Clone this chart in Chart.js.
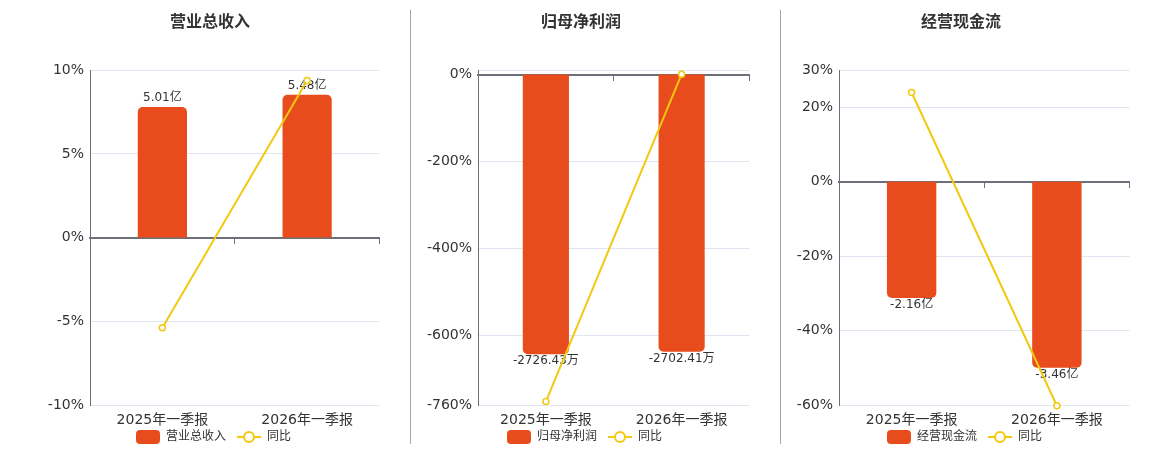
<!DOCTYPE html>
<html>
<head>
<meta charset="utf-8">
<script src="https://cdn.jsdelivr.net/npm/chart.js@4.4.1/dist/chart.umd.min.js"></script>
<style>
  html, body { margin: 0; padding: 0; background: #fff; }
  #wrap { position: relative; width: 1160px; height: 450px; overflow: hidden; }
  canvas { position: absolute; top: 0; }
  .sep { position: absolute; top: 10px; height: 434px; width: 1px; background: #a6a6a6; }
</style>
</head>
<body>
<div id="wrap">
  <canvas id="c1" width="350" height="453" style="left:35px"></canvas>
  <canvas id="c2" width="348" height="453" style="left:407px"></canvas>
  <canvas id="c3" width="348" height="453" style="left:787px"></canvas>
  <div class="sep" style="left:410px"></div>
  <div class="sep" style="left:780px"></div>
</div>
<script>
// ---- data ----
const categories = ['2025年一季报', '2026年一季报'];

const revenueTitle = '营业总收入';
const revenueValues = [5.01, 5.48];
const revenueUnit = '亿';
const revenueYoy = [-5.38, 9.38];
const revenueTicks = [-10, -5, 0, 5, 10];

const profitTitle = '归母净利润';
const profitValues = [-2726.43, -2702.41];
const profitUnit = '万';
const profitYoy = [-752, 0.88];
const profitTicks = [-760, -600, -400, -200, 0, 10];
const profitHiddenTicks = [10];

const cashTitle = '经营现金流';
const cashValues = [-2.16, -3.46];
const cashUnit = '亿';
const cashYoy = [24.0, -60.2];
const cashTicks = [-60, -40, -20, 0, 20, 30];

const yoyLabel = '同比';

// ---- styles ----
const BAR_COLOR = '#e84b1c';
const LINE_COLOR = '#f2c811';
const AXIS_COLOR = '#6e7079';
const GRID_COLOR = '#e0e6f1';
const TEXT_COLOR = '#333333';
Chart.defaults.font.family = "'DejaVu Sans', 'Noto Sans CJK SC', sans-serif";
Chart.defaults.color = TEXT_COLOR;

// legend icons: 31px wide, visible part on the right 24px
function makeBarIcon() {
  const c = document.createElement('canvas');
  c.width = 31; c.height = 14;
  const g = c.getContext('2d');
  g.fillStyle = BAR_COLOR;
  g.beginPath();
  g.roundRect(7, 0, 24, 14, 4);
  g.fill();
  return c;
}
function makeLineIcon() {
  const c = document.createElement('canvas');
  c.width = 31; c.height = 14;
  const g = c.getContext('2d');
  g.strokeStyle = LINE_COLOR;
  g.lineWidth = 2;
  g.beginPath(); g.moveTo(7, 7); g.lineTo(31, 7); g.stroke();
  g.fillStyle = '#fff';
  g.beginPath(); g.arc(19, 7, 5, 0, Math.PI * 2); g.fill(); g.stroke();
  return c;
}
const barIcon = makeBarIcon();
const lineIcon = makeLineIcon();

const barLabelPlugin = {
  id: 'barLabels',
  afterDatasetDraw(chart, args, opts) {
    if (args.index !== 0) return;
    const ctx = chart.ctx;
    const ds = chart.data.datasets[0];
    ctx.save();
    ctx.font = "12px 'DejaVu Sans', 'Noto Sans CJK SC', sans-serif";
    ctx.fillStyle = TEXT_COLOR;
    ctx.textAlign = 'center';
    args.meta.data.forEach((el, i) => {
      const v = ds.data[i];
      const txt = v.toFixed(2) + opts.unit;
      if (v >= 0) {
        ctx.textBaseline = 'bottom';
        ctx.fillText(txt, el.x, el.y - 3);
      } else {
        ctx.textBaseline = 'top';
        ctx.fillText(txt, el.x, el.y + 1);
      }
    });
    ctx.restore();
  }
};

function makeChart(id, p) {
  const tickList = p.ticks;
  const hidden = p.hiddenTicks || [];
  return new Chart(document.getElementById(id), {
    type: 'bar',
    data: {
      labels: categories,
      datasets: [
        {
          type: 'bar',
          label: p.title,
          data: p.values,
          yAxisID: 'yb',
          backgroundColor: BAR_COLOR,
          borderRadius: 5,
          borderSkipped: 'start',
          barPercentage: 0.34,
          categoryPercentage: 1,
          order: 1
        },
        {
          type: 'line',
          label: yoyLabel,
          data: p.yoy,
          yAxisID: 'y',
          borderColor: LINE_COLOR,
          borderWidth: 2,
          pointRadius: 3,
          pointBorderWidth: 1.5,
          pointBackgroundColor: '#fff',
          pointBorderColor: LINE_COLOR,
          tension: 0,
          clip: false,
          order: 0
        }
      ]
    },
    options: {
      responsive: false,
      animation: false,
      layout: { padding: 0 },
      plugins: {
        tooltip: { enabled: false },
        title: {
          display: true,
          text: p.title,
          color: TEXT_COLOR,
          font: { size: 16, weight: 'bold' },
          padding: { top: 13, bottom: 38 }
        },
        legend: {
          position: 'bottom',
          labels: {
            usePointStyle: true,
            pointStyleWidth: 31,
            padding: 4,
            color: TEXT_COLOR,
            font: { size: 12 },
            generateLabels(chart) {
              const items = Chart.defaults.plugins.legend.labels.generateLabels(chart);
              items.sort((a, b) => a.datasetIndex - b.datasetIndex);
              items.forEach(it => { it.pointStyle = it.datasetIndex === 0 ? barIcon : lineIcon; });
              return items;
            }
          }
        },
        barLabels: { unit: p.unit }
      },
      scales: {
        x: {
          type: 'category',
          offset: true,
          grid: { display: false, drawTicks: false },
          border: { display: false },
          ticks: { font: { size: 14, lineHeight: 1 }, color: TEXT_COLOR, padding: 8, maxRotation: 0 },
          afterFit(scale) { scale.height = 22; scale.paddingLeft = 0; scale.paddingRight = 0; }
        },
        x2: {
          type: 'category',
          offset: true,
          position: { y: 0 },
          z: 1,
          grid: { offset: true, drawOnChartArea: false, drawTicks: true, tickLength: 5, color: AXIS_COLOR, lineWidth: 1 },
          border: { display: true, color: AXIS_COLOR, width: 2 },
          ticks: { display: false },
          afterFit(scale) { scale.paddingLeft = 0; scale.paddingRight = 0; }
        },
        y: {
          type: 'linear',
          position: 'left',
          min: tickList[0],
          max: tickList[tickList.length - 1],
          afterBuildTicks(scale) { scale.ticks = tickList.map(v => ({ value: v })); },
          afterFit(scale) { scale.width = p.yWidth; },
          grid: { color: GRID_COLOR, lineWidth: 1, drawTicks: false },
          border: { display: true, color: AXIS_COLOR, width: 1 },
          ticks: {
            font: { size: 14 },
            color: TEXT_COLOR,
            padding: 6,
            callback: (v) => hidden.includes(v) ? '' : v + '%'
          }
        },
        yb: {
          type: 'linear',
          position: 'right',
          display: false,
          min: p.barMin,
          max: p.barMax
        }
      }
    },
    plugins: [barLabelPlugin]
  });
}

makeChart('c1', { title: revenueTitle, values: revenueValues, unit: revenueUnit, yoy: revenueYoy,
  ticks: revenueTicks, barMin: -6.42, barMax: 6.42, yWidth: 55 });
makeChart('c2', { title: profitTitle, values: profitValues, unit: profitUnit, yoy: profitYoy,
  ticks: profitTicks, hiddenTicks: profitHiddenTicks, barMin: -3222, barMax: 42, yWidth: 71 });
makeChart('c3', { title: cashTitle, values: cashValues, unit: cashUnit, yoy: cashYoy,
  ticks: cashTicks, barMin: -4.153, barMax: 2.076, yWidth: 52 });
</script>
</body>
</html>
